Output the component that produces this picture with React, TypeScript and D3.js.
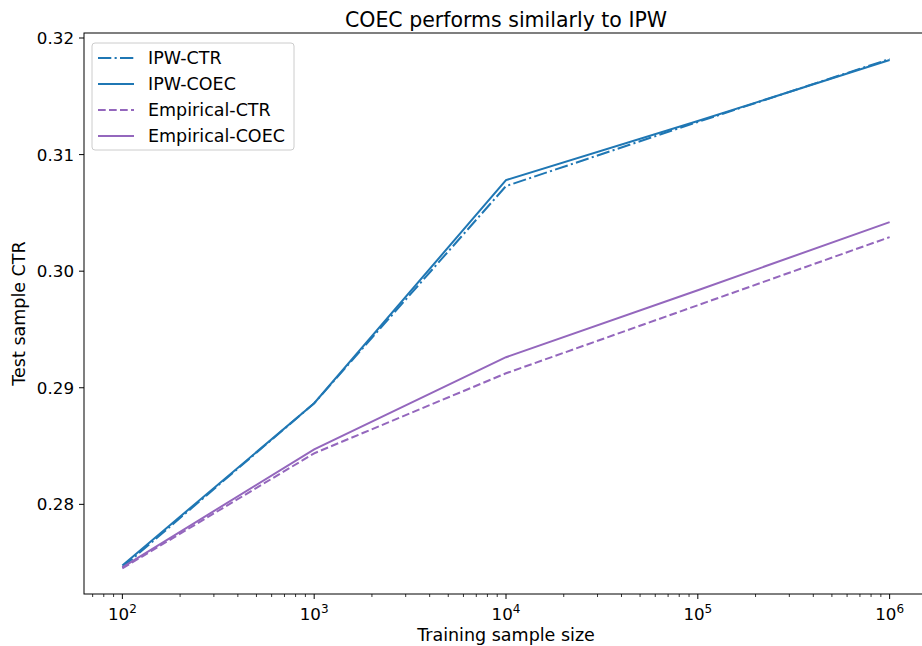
import React from "react";
import * as d3 from "d3";

const sampleSizes = [1e2, 1e3, 1e4, 1e5, 1e6];
const ipwCtr = [0.27459, 0.28867, 0.3073, 0.3128, 0.3182];
const ipwCoec = [0.27476, 0.28867, 0.30781, 0.31288, 0.31811];
const empCtr = [0.27451, 0.28438, 0.29124, 0.29708, 0.30292];
const empCoec = [0.27459, 0.28472, 0.29262, 0.29837, 0.30421];
const yTicks = [0.28, 0.29, 0.3, 0.31, 0.32];
const xTickExps = [2, 3, 4, 5, 6];

const series = [
  { name: "IPW-CTR", values: ipwCtr, color: "#1f77b4", dash: "13.3,3.3,2.1,3.3" },
  { name: "IPW-COEC", values: ipwCoec, color: "#1f77b4", dash: "" },
  { name: "Empirical-CTR", values: empCtr, color: "#9467bd", dash: "7.7,3.3" },
  { name: "Empirical-COEC", values: empCoec, color: "#9467bd", dash: "" },
];

const W = 922, H = 646;
const left = 84, right = 928, top = 33, bottom = 594;
const font = "'DejaVu Sans', sans-serif";

export default function App() {
  const x = d3.scaleLog().domain([Math.pow(10, 1.8), Math.pow(10, 6.2)]).range([left, right]);
  const y = d3.scaleLinear().domain([0.27231, 0.32043]).range([bottom, top]);
  const line = d3.line<[number, number]>().x(d => x(d[0])).y(d => y(d[1]));
  const minor: number[] = [];
  for (let e = 1; e <= 6; e++) for (let m = 2; m <= 9; m++) {
    const v = m * Math.pow(10, e);
    if (v > x.domain()[0] && v < x.domain()[1]) minor.push(v);
  }
  return (
    <svg width={W} height={H} style={{ position: "absolute", left: 0, top: 0, background: "#fff", overflow: "hidden" }} fontFamily={font}>
      <rect x={0} y={0} width={W} height={H} fill="#fff" />
      <text x={(left + right) / 2} y={27} textAnchor="middle" fontSize={20.5} fill="#000">COEC performs similarly to IPW</text>
      {series.map(s => (
        <path key={s.name} d={line(sampleSizes.map((v, i) => [v, s.values[i]]) as [number, number][]) || ""}
          fill="none" stroke={s.color} strokeWidth={2} strokeDasharray={s.dash || undefined} />
      ))}
      <rect x={left} y={top} width={right - left} height={bottom - top} fill="none" stroke="#000" strokeWidth={1} />
      {yTicks.map(t => (
        <g key={t}>
          <line x1={left - 5} x2={left} y1={y(t)} y2={y(t)} stroke="#000" strokeWidth={1} />
          <text x={left - 10} y={y(t) + 6} textAnchor="end" fontSize={16.7} fill="#000">{t.toFixed(2)}</text>
        </g>
      ))}
      {xTickExps.map(e => (
        <g key={e}>
          <line x1={x(Math.pow(10, e))} x2={x(Math.pow(10, e))} y1={bottom} y2={bottom + 5} stroke="#000" strokeWidth={1} />
          <text x={x(Math.pow(10, e))} y={bottom + 26} textAnchor="middle" fontSize={16.7} fill="#000">
            10<tspan fontSize={12} dy={-7}>{e}</tspan>
          </text>
        </g>
      ))}
      {minor.map(v => (
        <line key={v} x1={x(v)} x2={x(v)} y1={bottom} y2={bottom + 3} stroke="#000" strokeWidth={0.8} />
      ))}
      <text x={(left + right) / 2} y={641} textAnchor="middle" fontSize={17.5} fill="#000">Training sample size</text>
      <text transform={`translate(25,${(top + bottom) / 2}) rotate(-90)`} textAnchor="middle" fontSize={17.5} fill="#000">Test sample CTR</text>
      <rect x={92} y={43} width={202} height={107} rx={3} fill="#fff" fillOpacity={0.8} stroke="#ccc" strokeWidth={1} />
      {series.map((s, i) => (
        <g key={s.name}>
          <line x1={98} x2={134} y1={58 + i * 26} y2={58 + i * 26} stroke={s.color} strokeWidth={2} strokeDasharray={s.dash || undefined} />
          <text x={148} y={64 + i * 26} fontSize={17.5} fill="#000">{s.name}</text>
        </g>
      ))}
    </svg>
  );
}
